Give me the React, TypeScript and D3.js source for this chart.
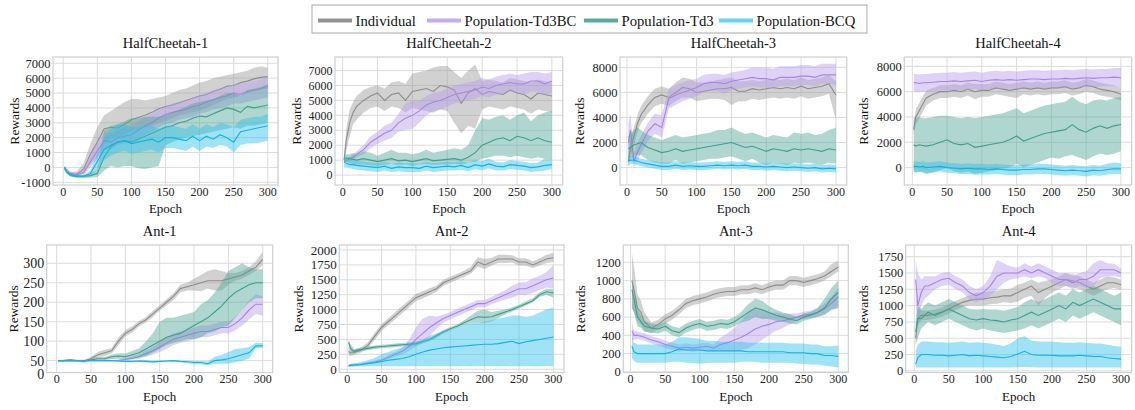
import React from "react";
import * as d3 from "d3";

// ---------- data ----------
const EPOCHS = [2, 5, 10, 15, 20, 30, 40, 50, 60, 70, 80, 90, 100, 110, 120, 130, 140, 150, 160, 170, 180, 190, 200, 210, 220, 230, 240, 250, 260, 270, 280, 290, 300];
const X_TICKS = [0, 50, 100, 150, 200, 250, 300];

const SERIES = ["Individual", "Population-Td3BC", "Population-Td3", "Population-BCQ"];
const LINE_COLORS = ["#8c8c8c", "#a684e6", "#3f9e8d", "#0fb3e6"];
const BAND_COLORS = ["#9a9a9a", "#b59ced", "#4fa596", "#2ec0ec"];
const LEGEND_COLORS = ["#939393", "#c4adef", "#5aab9f", "#6ad2f1"];

// HalfCheetah-1
const HC1_IND_M = [0, -200, -450, -500, -450, -100, 900, 1700, 2600, 2700, 2650, 2900, 3200, 3350, 3500, 3700, 3950, 4100, 4200, 4350, 4500, 4650, 4800, 4900, 5100, 5250, 5450, 5500, 5700, 5800, 5950, 6050, 6100];
const HC1_IND_LO = [-100, -350, -600, -650, -600, -400, 200, 700, 1600, 2000, 2000, 2200, 2400, 2600, 2700, 2800, 3000, 3100, 3300, 3500, 3600, 3700, 3800, 4000, 4200, 4400, 4600, 4700, 4800, 5000, 5100, 5200, 5300];
const HC1_IND_HI = [100, -50, -300, -300, -250, 300, 1600, 2700, 3500, 3800, 4100, 4400, 4600, 4600, 4500, 4600, 4700, 4800, 5000, 5200, 5300, 5500, 5700, 5800, 6000, 6100, 6200, 6300, 6400, 6500, 6700, 6800, 6700];
const HC1_TBC_M = [0, -250, -400, -450, -500, -350, 400, 1100, 1800, 1700, 2000, 2100, 2200, 2500, 2800, 3000, 3300, 3550, 3700, 3800, 3900, 4100, 4200, 4400, 4550, 4700, 4800, 5000, 4900, 5100, 5200, 5300, 5450];
const HC1_TBC_LO = [-100, -400, -550, -600, -650, -550, 0, 600, 1200, 1200, 1500, 1600, 1700, 1900, 2200, 2400, 2700, 2900, 3000, 3200, 3300, 3400, 3600, 3700, 3900, 4000, 4100, 4300, 4300, 4400, 4500, 4600, 4700];
const HC1_TBC_HI = [100, -100, -250, -300, -350, -150, 900, 1700, 2400, 2300, 2500, 2700, 2800, 3100, 3400, 3600, 3900, 4100, 4300, 4400, 4500, 4700, 4800, 5000, 5200, 5300, 5400, 5600, 5600, 5700, 5800, 5900, 6100];
const HC1_TD3_M = [-100, -300, -450, -550, -600, -600, -550, -400, 700, 1400, 1700, 1800, 1700, 1900, 2100, 2300, 2500, 2700, 2800, 3000, 3100, 3300, 3450, 3400, 3600, 3800, 4000, 3900, 3700, 4100, 4000, 4100, 4200];
const HC1_TD3_LO = [-150, -400, -550, -650, -700, -700, -700, -650, -200, 100, 0, 100, 100, -50, -100, 0, 100, 1500, 1700, 1900, 2000, 2100, 2200, 2300, 2400, 2500, 2600, 2700, 2600, 2800, 2800, 2900, 3000];
const HC1_TD3_HI = [-50, -200, -350, -450, -500, -500, -400, -100, 2500, 2800, 2900, 3100, 3300, 3300, 3400, 3400, 3400, 3500, 3700, 3900, 4100, 4300, 4400, 4500, 4600, 4800, 5000, 5000, 4800, 5200, 5300, 5400, 5600];
const HC1_BCQ_M = [0, -300, -500, -550, -600, -600, -400, 400, 1200, 1500, 1700, 1800, 1600, 1700, 1800, 1900, 1700, 2000, 2000, 1900, 1800, 2100, 1800, 2100, 1900, 2200, 2000, 1700, 2400, 2500, 2600, 2700, 2800];
const HC1_BCQ_LO = [-100, -400, -600, -650, -700, -700, -600, -100, 500, 800, 1000, 1100, 900, 1000, 1100, 1200, 1000, 1300, 1300, 1200, 1100, 1400, 1100, 1400, 1300, 1500, 1400, 1000, 1500, 1600, 1600, 1700, 1800];
const HC1_BCQ_HI = [100, -200, -400, -450, -500, -500, -200, 900, 2000, 2600, 2900, 2900, 2700, 2700, 2800, 2800, 2600, 2800, 2800, 2700, 2600, 2900, 2600, 2900, 2700, 3000, 2900, 2700, 3200, 3300, 3400, 3400, 3600];

// HalfCheetah-2
const HC2_IND_M = [1000, 2300, 3500, 4200, 4600, 5000, 5300, 5500, 5000, 5400, 5500, 5000, 5600, 5700, 5800, 5600, 6000, 5900, 5700, 4800, 5500, 5800, 5400, 5600, 5500, 5400, 5700, 5500, 5400, 5100, 5500, 5400, 5300];
const HC2_IND_LO = [800, 1600, 2600, 3400, 3700, 4200, 4500, 4600, 4300, 4600, 4500, 4200, 4500, 4400, 4300, 4200, 4400, 4300, 3500, 2800, 3300, 3100, 4400, 4600, 4500, 4400, 4600, 4500, 4400, 4100, 4400, 4300, 4200];
const HC2_IND_HI = [1200, 3000, 4400, 4900, 5300, 5700, 5900, 6000, 5800, 6200, 6300, 6100, 6800, 6900, 7000, 7200, 7300, 7300, 6900, 6500, 7000, 7400, 6300, 6400, 6300, 6200, 6500, 6400, 6300, 6200, 6400, 6300, 6200];
const HC2_TBC_M = [900, 1000, 1100, 1200, 1400, 1700, 2200, 2500, 2800, 3000, 3500, 3800, 4000, 4300, 4700, 4900, 5000, 5200, 5400, 5500, 5600, 5700, 5900, 5800, 6000, 6100, 6200, 6100, 6100, 6300, 6300, 6100, 6300];
const HC2_TBC_LO = [800, 900, 950, 1050, 1200, 1400, 1800, 2100, 2300, 2500, 2900, 3000, 3100, 3500, 4000, 4300, 4400, 4600, 4800, 4900, 5000, 5100, 5300, 5200, 5400, 5500, 5600, 5500, 5400, 5600, 5600, 5400, 5500];
const HC2_TBC_HI = [1000, 1100, 1250, 1400, 1600, 2000, 2600, 2900, 3300, 3500, 4100, 4800, 5000, 5000, 5300, 5500, 5600, 5800, 6000, 6100, 6200, 6300, 6500, 6400, 6600, 6700, 6800, 6700, 6800, 6900, 6900, 6800, 6900];
const HC2_TD3_M = [1100, 1150, 1100, 1050, 1000, 1100, 1000, 900, 1000, 1100, 950, 1000, 900, 1000, 1100, 950, 1000, 1050, 1100, 1000, 1200, 1500, 2000, 2200, 2400, 2500, 2300, 2600, 2500, 2300, 2500, 2300, 2200];
const HC2_TD3_LO = [900, 900, 800, 750, 700, 700, 650, 600, 700, 750, 650, 700, 600, 700, 750, 650, 700, 700, 750, 700, 800, 900, 1100, 1200, 1300, 1300, 1200, 1300, 1200, 1100, 1200, 1100, 1000];
const HC2_TD3_HI = [1300, 1400, 1400, 1500, 1400, 1600, 1500, 1300, 1500, 1700, 1500, 1500, 1400, 1500, 1700, 1500, 1600, 1700, 1800, 1700, 2000, 3000, 3800, 3700, 3900, 4000, 3700, 4000, 4200, 3600, 4000, 4200, 4300];
const HC2_BCQ_M = [900, 800, 700, 700, 650, 600, 550, 500, 600, 450, 550, 500, 500, 450, 600, 500, 550, 600, 550, 650, 500, 700, 600, 750, 600, 550, 700, 650, 600, 500, 550, 650, 700];
const HC2_BCQ_LO = [500, 500, 450, 400, 350, 300, 250, 200, 300, 200, 250, 200, 200, 200, 300, 200, 250, 300, 300, 350, 250, 400, 300, 450, 300, 300, 400, 350, 300, 200, 250, 300, 400];
const HC2_BCQ_HI = [1300, 1100, 1000, 1000, 950, 900, 850, 800, 900, 750, 850, 800, 800, 750, 900, 800, 850, 900, 850, 950, 800, 1000, 950, 1100, 900, 850, 1000, 950, 900, 800, 850, 1100, 1000];

// HalfCheetah-3
const HC3_IND_M = [500, 1500, 2500, 3500, 4200, 5000, 5600, 5800, 5600, 6000, 6400, 6300, 6000, 6100, 6200, 6300, 6300, 6400, 6100, 6100, 6300, 6200, 6300, 6400, 6300, 6400, 6300, 6500, 6300, 6400, 6500, 6700, 5800];
const HC3_IND_LO = [0, 800, 1800, 2800, 3500, 4300, 4900, 5100, 4900, 5300, 5600, 5600, 5300, 5400, 5500, 5500, 5400, 5000, 5300, 5300, 5500, 5400, 5500, 5600, 5500, 5600, 5500, 5700, 5500, 5600, 5700, 5900, 3800];
const HC3_IND_HI = [1000, 2200, 3200, 4200, 4900, 5700, 6300, 6500, 6300, 6800, 7200, 7100, 6800, 6800, 6900, 7000, 7100, 7200, 6900, 6900, 7000, 6900, 7000, 7100, 7000, 7100, 7000, 7200, 7000, 7100, 7200, 7400, 6900];
const HC3_TBC_M = [2000, 3000, 500, 1200, 1800, 2900, 3500, 3200, 5500, 5800, 6000, 6200, 6400, 6700, 6800, 6800, 6700, 6900, 7000, 7100, 7200, 7100, 7100, 7000, 7200, 7200, 7200, 7300, 7300, 7200, 7400, 7400, 7400];
const HC3_TBC_LO = [800, 1500, 0, 500, 1100, 2100, 2700, 2400, 4700, 5000, 5300, 5500, 5700, 6000, 6100, 6100, 5900, 6200, 6300, 6400, 6500, 6400, 6400, 6300, 6500, 6500, 6500, 6600, 6600, 6500, 6700, 6700, 6600];
const HC3_TBC_HI = [3500, 4300, 1200, 2000, 2500, 3600, 4300, 4200, 6300, 6600, 6800, 7000, 7100, 7400, 7500, 7500, 7400, 7600, 7700, 7800, 8000, 8000, 8000, 7900, 8100, 8100, 8100, 8200, 8200, 8100, 8300, 8300, 8300];
const HC3_TD3_M = [1500, 1600, 1800, 1900, 2000, 1600, 1400, 1200, 1300, 1500, 1300, 1400, 1500, 1600, 1700, 1800, 1900, 2000, 1800, 1600, 1700, 1500, 1300, 1500, 1400, 1300, 1500, 1400, 1500, 1400, 1300, 1500, 1400];
const HC3_TD3_LO = [500, 700, 900, 1000, 1000, 600, 400, 300, 300, 600, 300, 400, 500, 600, 700, 700, 800, 900, 700, 500, 700, 400, 200, 400, 300, 200, 400, 300, 400, 300, 200, 400, 300];
const HC3_TD3_HI = [2500, 2700, 3000, 3200, 3000, 2600, 2400, 2200, 2400, 2600, 2400, 2500, 2600, 2700, 2800, 3000, 3000, 3200, 2900, 2700, 2800, 2600, 2400, 2600, 2500, 2400, 2800, 2700, 2800, 2600, 2700, 3000, 3200];
const HC3_BCQ_M = [500, 600, 600, 500, 400, 300, 200, 100, 100, 200, 100, 150, 100, 100, 150, 200, 150, 200, 150, 200, 100, 100, 50, 100, 50, 0, 50, 0, -50, 0, -100, -50, -100];
const HC3_BCQ_LO = [100, 300, 300, 200, 100, 0, -100, -200, -200, -100, -200, -150, -200, -200, -150, -100, -150, -100, -150, -100, -200, -200, -250, -200, -250, -300, -250, -300, -350, -300, -400, -350, -400];
const HC3_BCQ_HI = [900, 900, 900, 800, 700, 600, 500, 400, 400, 500, 400, 450, 400, 400, 450, 500, 450, 500, 450, 500, 400, 400, 350, 400, 350, 300, 350, 300, 250, 300, 200, 250, 200];

// HalfCheetah-4
const HC4_IND_M = [3000, 4000, 4500, 5000, 5500, 5800, 6000, 6000, 6100, 6000, 6200, 6000, 6100, 6100, 6300, 6200, 6100, 6200, 6300, 6200, 6300, 6200, 6300, 6300, 6400, 6200, 6300, 6500, 6400, 6200, 6100, 6000, 5800];
const HC4_IND_LO = [2600, 3400, 3900, 4400, 4900, 5300, 5500, 5500, 5600, 5500, 5700, 5400, 5600, 5600, 5800, 5700, 5600, 5500, 5800, 5700, 5800, 5700, 5800, 5800, 5900, 5700, 5800, 6000, 5900, 5700, 5600, 5500, 5300];
const HC4_IND_HI = [3400, 4600, 5100, 5600, 6100, 6300, 6500, 6500, 6600, 6500, 6700, 6600, 6600, 6600, 6800, 6700, 6600, 6700, 6800, 6700, 6800, 6700, 6800, 6800, 6900, 6700, 6800, 7000, 6900, 6700, 6600, 6500, 6300];
const HC4_TBC_M = [6700, 6700, 6650, 6700, 6700, 6750, 6800, 6800, 6850, 6800, 6850, 6900, 6800, 6900, 6950, 6900, 6950, 6900, 6950, 7000, 7000, 6950, 7000, 7000, 7050, 7000, 7050, 7100, 7050, 7100, 7100, 7150, 7100];
const HC4_TBC_LO = [6000, 6000, 5950, 6000, 6000, 6050, 6100, 6100, 6150, 6100, 6150, 6200, 6100, 6200, 6250, 6200, 6250, 6200, 6250, 6300, 6300, 6250, 6300, 6300, 6350, 6300, 6350, 6400, 6350, 6400, 6400, 6450, 6300];
const HC4_TBC_HI = [7400, 7400, 7350, 7400, 7400, 7450, 7500, 7500, 7550, 7500, 7550, 7600, 7500, 7600, 7650, 7600, 7650, 7600, 7650, 7700, 7700, 7650, 7700, 7700, 7750, 7700, 7750, 7800, 7750, 7800, 7800, 7850, 7900];
const HC4_TD3_M = [1800, 1700, 1800, 1750, 1700, 1800, 2000, 2200, 1900, 1800, 1900, 1600, 1700, 1800, 1900, 2000, 2200, 2500, 2100, 2300, 2500, 2700, 2800, 2900, 3000, 3400, 3000, 2800, 3100, 3300, 3100, 3300, 3400];
const HC4_TD3_LO = [-300, -400, -300, -400, -500, -400, -200, 0, -300, -400, -300, -500, -400, -300, -200, -100, 0, 300, 0, 200, 400, 600, 800, 700, 900, 1000, 800, 600, 900, 1100, 1000, 1100, 1300];
const HC4_TD3_HI = [4000, 3900, 4000, 3900, 3900, 4000, 4100, 4100, 4000, 3900, 4000, 3900, 4000, 4100, 4200, 4300, 4500, 4700, 4300, 4500, 4700, 4900, 5000, 5100, 5200, 5600, 5200, 5000, 5300, 5400, 5300, 5500, 5600];
const HC4_BCQ_M = [100, 100, 50, 100, 0, 50, 100, 0, -50, -100, -50, -100, -100, -150, -100, -150, -200, -200, -150, -150, -100, -100, -150, -200, -250, -200, -250, -300, -200, -250, -150, -100, -100];
const HC4_BCQ_LO = [-300, -300, -350, -300, -400, -350, -300, -400, -450, -500, -500, -550, -550, -550, -500, -550, -600, -600, -550, -550, -500, -500, -550, -600, -650, -600, -650, -700, -600, -650, -550, -500, -500];
const HC4_BCQ_HI = [500, 500, 450, 500, 400, 450, 500, 400, 350, 300, 350, 300, 300, 250, 300, 250, 200, 200, 250, 250, 300, 300, 250, 200, 150, 200, 150, 100, 200, 150, 300, 400, 350];

// Ant-1
const A1_IND_M = [50, 50, 50, 50, 50, 50, 48, 55, 65, 70, 75, 100, 120, 130, 145, 155, 170, 185, 200, 215, 235, 240, 245, 250, 255, 255, 255, 260, 265, 270, 280, 290, 310];
const A1_IND_LO = [48, 48, 48, 48, 48, 48, 44, 50, 58, 62, 68, 90, 112, 122, 138, 148, 162, 178, 192, 206, 225, 230, 230, 228, 235, 230, 230, 245, 255, 260, 270, 280, 295];
const A1_IND_HI = [52, 52, 52, 52, 52, 52, 52, 60, 72, 78, 82, 110, 128, 138, 152, 162, 178, 192, 208, 224, 245, 250, 260, 270, 280, 285, 280, 275, 275, 280, 290, 305, 330];
const A1_TBC_M = [50, 50, 50, 50, 50, 50, 50, 50, 50, 50, 50, 51, 53, 56, 60, 68, 75, 85, 95, 105, 110, 115, 120, 125, 125, 130, 135, 135, 145, 160, 180, 195, 195];
const A1_TBC_LO = [49, 49, 49, 49, 49, 49, 49, 49, 49, 49, 49, 49, 50, 52, 55, 60, 65, 72, 80, 90, 95, 100, 105, 110, 110, 115, 120, 120, 128, 140, 155, 170, 165];
const A1_TBC_HI = [51, 51, 51, 51, 51, 51, 51, 51, 51, 51, 51, 53, 56, 60, 66, 76, 85, 98, 110, 120, 125, 130, 135, 140, 140, 145, 150, 150, 162, 180, 205, 220, 215];
const A1_TD3_M = [50, 50, 50, 51, 52, 50, 50, 52, 55, 55, 60, 62, 60, 65, 70, 80, 90, 100, 110, 115, 120, 130, 140, 150, 160, 175, 190, 210, 225, 235, 245, 250, 250];
const A1_TD3_LO = [49, 49, 49, 49, 50, 49, 49, 50, 51, 51, 54, 55, 53, 55, 58, 62, 70, 80, 90, 95, 100, 105, 105, 110, 120, 125, 135, 140, 160, 180, 200, 210, 210];
const A1_TD3_HI = [51, 51, 52, 54, 54, 51, 51, 54, 59, 59, 66, 69, 68, 75, 82, 100, 120, 150, 160, 160, 165, 170, 175, 195, 205, 225, 250, 280, 290, 300, 290, 285, 285];
const A1_BCQ_M = [50, 50, 50, 50, 50, 50, 50, 50, 50, 50, 50, 49, 48, 48, 49, 48, 47, 48, 49, 50, 48, 47, 45, 45, 42, 50, 52, 55, 60, 65, 70, 88, 88];
const A1_BCQ_LO = [49, 49, 49, 49, 49, 49, 49, 49, 49, 49, 49, 47, 46, 46, 47, 45, 44, 46, 47, 48, 46, 44, 41, 41, 38, 42, 42, 42, 46, 50, 55, 82, 84];
const A1_BCQ_HI = [51, 51, 51, 51, 51, 51, 51, 51, 51, 51, 51, 51, 50, 50, 51, 51, 50, 50, 51, 52, 50, 50, 49, 49, 48, 60, 65, 72, 80, 82, 85, 96, 95];

// Ant-2
const A2_IND_M = [300, 270, 280, 300, 320, 400, 550, 700, 800, 900, 1000, 1100, 1200, 1250, 1300, 1350, 1450, 1500, 1550, 1600, 1650, 1800, 1750, 1800, 1850, 1850, 1850, 1800, 1800, 1750, 1800, 1850, 1870];
const A2_IND_LO = [230, 220, 240, 260, 280, 350, 490, 640, 740, 840, 940, 1040, 1140, 1190, 1240, 1300, 1400, 1450, 1500, 1550, 1600, 1720, 1680, 1740, 1780, 1780, 1790, 1740, 1740, 1700, 1740, 1780, 1800];
const A2_IND_HI = [380, 330, 320, 340, 370, 450, 610, 760, 860, 960, 1060, 1160, 1260, 1310, 1360, 1400, 1500, 1550, 1600, 1650, 1720, 1880, 1850, 1870, 1920, 1920, 1910, 1860, 1860, 1810, 1860, 1920, 1950];
const A2_TBC_M = [60, 65, 70, 75, 80, 100, 120, 150, 200, 250, 300, 380, 500, 600, 700, 780, 850, 900, 950, 1000, 1050, 1100, 1100, 1150, 1200, 1250, 1300, 1350, 1350, 1400, 1450, 1500, 1530];
const A2_TBC_LO = [40, 45, 50, 55, 60, 75, 95, 120, 165, 210, 250, 300, 380, 450, 550, 680, 780, 840, 890, 940, 990, 1040, 1040, 1090, 1130, 1170, 1200, 1250, 1240, 1280, 1330, 1370, 1350];
const A2_TBC_HI = [80, 85, 90, 95, 100, 125, 145, 180, 235, 290, 350, 500, 700, 850, 900, 880, 920, 960, 1010, 1060, 1110, 1160, 1160, 1210, 1270, 1330, 1400, 1450, 1460, 1520, 1570, 1630, 1750];
const A2_TD3_M = [450, 350, 300, 320, 330, 350, 370, 380, 390, 400, 410, 420, 430, 460, 500, 560, 630, 680, 720, 780, 830, 880, 870, 880, 920, 960, 1000, 1050, 1100, 1150, 1250, 1300, 1280];
const A2_TD3_LO = [400, 300, 270, 290, 300, 320, 340, 350, 360, 370, 380, 390, 400, 430, 470, 530, 600, 650, 690, 740, 780, 780, 780, 800, 860, 920, 970, 1020, 1070, 1120, 1210, 1250, 1200];
const A2_TD3_HI = [500, 420, 340, 350, 360, 380, 400, 410, 420, 430, 440, 450, 460, 490, 530, 590, 660, 710, 750, 820, 900, 980, 1000, 960, 980, 1000, 1040, 1080, 1140, 1190, 1290, 1350, 1340];
const A2_BCQ_M = [60, 65, 70, 75, 80, 95, 110, 130, 150, 165, 180, 210, 250, 290, 320, 340, 360, 370, 380, 390, 400, 410, 420, 420, 430, 450, 470, 430, 460, 480, 500, 520, 540];
const A2_BCQ_LO = [40, 42, 45, 45, 45, 48, 48, 50, 50, 48, 50, 50, 50, 52, 50, 50, 52, 50, 50, 52, 50, 50, 52, 50, 50, 52, 50, 50, 52, 50, 50, 52, 50];
const A2_BCQ_HI = [80, 90, 100, 110, 120, 150, 190, 250, 290, 330, 370, 420, 460, 500, 560, 600, 640, 660, 700, 740, 780, 780, 800, 820, 850, 870, 900, 900, 880, 900, 950, 1000, 1030];

// Ant-3
const A3_IND_M = [1000, 900, 700, 650, 550, 480, 520, 580, 620, 680, 750, 780, 800, 820, 850, 870, 880, 880, 900, 900, 920, 900, 930, 950, 950, 1000, 1000, 980, 1000, 1020, 1050, 1100, 1150];
const A3_IND_LO = [700, 650, 550, 520, 450, 420, 470, 530, 570, 630, 700, 730, 750, 770, 800, 820, 830, 830, 850, 850, 870, 850, 880, 900, 900, 950, 950, 930, 950, 970, 1000, 1050, 1100];
const A3_IND_HI = [1300, 1150, 850, 780, 650, 540, 570, 630, 670, 730, 800, 830, 850, 870, 900, 920, 930, 930, 950, 950, 970, 950, 980, 1000, 1000, 1050, 1050, 1030, 1050, 1070, 1100, 1180, 1220];
const A3_TBC_M = [450, 400, 400, 390, 380, 350, 330, 300, 280, 260, 270, 260, 270, 280, 260, 300, 320, 350, 380, 420, 470, 500, 520, 550, 560, 580, 600, 620, 630, 650, 690, 750, 820];
const A3_TBC_LO = [350, 350, 360, 350, 340, 310, 290, 260, 240, 220, 230, 220, 230, 240, 220, 240, 230, 230, 240, 260, 300, 350, 400, 450, 480, 520, 560, 580, 590, 600, 630, 680, 700];
const A3_TBC_HI = [550, 450, 440, 430, 420, 390, 370, 340, 320, 300, 310, 300, 310, 320, 300, 380, 420, 480, 560, 640, 690, 680, 650, 650, 640, 640, 640, 660, 670, 700, 750, 820, 920];
const A3_TD3_M = [900, 800, 600, 550, 500, 480, 470, 500, 450, 430, 480, 510, 530, 500, 510, 530, 520, 550, 600, 650, 700, 680, 650, 620, 600, 580, 560, 600, 620, 650, 700, 800, 870];
const A3_TD3_LO = [700, 650, 500, 480, 440, 430, 420, 450, 400, 380, 430, 460, 480, 450, 460, 480, 470, 500, 540, 560, 600, 580, 580, 560, 550, 530, 520, 560, 580, 600, 620, 680, 700];
const A3_TD3_HI = [1000, 900, 700, 620, 560, 530, 520, 550, 500, 480, 530, 560, 580, 550, 560, 580, 570, 600, 660, 740, 800, 780, 720, 680, 650, 630, 600, 640, 660, 700, 800, 920, 1000];
const A3_BCQ_M = [280, 220, 200, 200, 200, 200, 200, 200, 220, 250, 240, 240, 240, 230, 230, 230, 230, 230, 230, 220, 220, 220, 220, 220, 220, 210, 210, 210, 200, 200, 180, 180, 170];
const A3_BCQ_LO = [150, 120, 100, 100, 100, 100, 100, 100, 110, 110, 100, 100, 90, 100, 100, 100, 100, 100, 110, 110, 110, 100, 100, 100, 100, 100, 90, 90, 80, 80, 70, 60, 50];
const A3_BCQ_HI = [400, 320, 300, 300, 300, 300, 300, 300, 330, 380, 380, 370, 360, 340, 340, 330, 330, 330, 330, 320, 320, 320, 320, 320, 320, 310, 310, 310, 300, 300, 280, 280, 290];

// Ant-4
const A4_IND_M = [500, 800, 850, 850, 850, 870, 900, 950, 1000, 1050, 1080, 1100, 1100, 1120, 1130, 1150, 1150, 1200, 1250, 1300, 1200, 1250, 1300, 1350, 1400, 1380, 1350, 1300, 1250, 1300, 1350, 1350, 1320];
const A4_IND_LO = [400, 700, 770, 780, 780, 800, 830, 880, 930, 980, 1000, 1000, 1000, 1020, 1030, 1050, 1040, 1060, 1120, 1150, 1000, 1120, 1200, 1250, 1300, 1280, 1250, 1200, 1150, 1200, 1250, 1270, 1240];
const A4_IND_HI = [600, 950, 930, 920, 920, 940, 970, 1020, 1070, 1120, 1160, 1200, 1200, 1220, 1230, 1250, 1260, 1320, 1350, 1400, 1350, 1380, 1400, 1450, 1500, 1480, 1450, 1400, 1350, 1400, 1450, 1430, 1400];
const A4_TBC_M = [1400, 1000, 1200, 1300, 1300, 1350, 1400, 1420, 1350, 1300, 1200, 1150, 1200, 1300, 1450, 1500, 1500, 1500, 1550, 1500, 1550, 1500, 1450, 1400, 1400, 1350, 1400, 1400, 1450, 1550, 1550, 1550, 1500];
const A4_TBC_LO = [1000, 700, 1000, 1100, 1150, 1250, 1300, 1320, 1250, 1200, 1100, 1050, 1100, 1150, 1250, 1350, 1400, 1420, 1450, 1420, 1450, 1420, 1350, 1300, 1300, 1250, 1300, 1270, 1300, 1420, 1450, 1450, 1430];
const A4_TBC_HI = [1700, 1500, 1400, 1450, 1450, 1450, 1500, 1520, 1450, 1400, 1300, 1250, 1300, 1450, 1700, 1650, 1600, 1580, 1650, 1600, 1650, 1600, 1550, 1500, 1500, 1450, 1500, 1530, 1650, 1700, 1650, 1640, 1570];
const A4_TD3_M = [600, 800, 800, 850, 900, 850, 900, 950, 900, 850, 800, 780, 800, 780, 770, 750, 780, 800, 850, 900, 850, 900, 950, 1000, 950, 1050, 1000, 1050, 1100, 1050, 1000, 950, 950];
const A4_TD3_LO = [400, 500, 650, 700, 750, 700, 750, 800, 750, 700, 650, 620, 650, 620, 600, 580, 600, 620, 650, 700, 650, 700, 750, 800, 750, 850, 800, 850, 900, 850, 800, 750, 700];
const A4_TD3_HI = [800, 1000, 950, 1000, 1050, 1000, 1050, 1100, 1050, 1000, 950, 940, 950, 940, 940, 920, 950, 980, 1050, 1100, 1050, 1100, 1150, 1200, 1150, 1250, 1200, 1250, 1300, 1250, 1200, 1150, 1200];
const A4_BCQ_M = [100, 200, 250, 250, 250, 240, 240, 230, 240, 250, 230, 240, 230, 220, 210, 200, 220, 260, 300, 250, 240, 240, 240, 230, 230, 230, 240, 230, 220, 220, 200, 190, 180];
const A4_BCQ_LO = [50, 50, 52, 50, 50, 52, 50, 50, 52, 50, 50, 52, 50, 50, 52, 50, 50, 55, 60, 55, 50, 50, 52, 50, 50, 52, 50, 50, 52, 50, 50, 52, 50];
const A4_BCQ_HI = [300, 400, 450, 450, 450, 440, 440, 430, 440, 450, 430, 440, 430, 420, 400, 380, 420, 500, 530, 460, 450, 450, 450, 440, 430, 430, 440, 430, 420, 420, 400, 380, 370];

// y tick values
const HC1_Y_TICKS = [-1000, 0, 1000, 2000, 3000, 4000, 5000, 6000, 7000];
const HC2_Y_TICKS = [0, 1000, 2000, 3000, 4000, 5000, 6000, 7000];
const HC3_Y_TICKS = [0, 2000, 4000, 6000, 8000];
const HC4_Y_TICKS = [0, 2000, 4000, 6000, 8000];
const A1_Y_TICKS = [50, 100, 150, 200, 250, 300];
const A2_Y_TICKS = [0, 250, 500, 750, 1000, 1250, 1500, 1750, 2000];
const A3_Y_TICKS = [0, 200, 400, 600, 800, 1000, 1200];
const A4_Y_TICKS = [0, 250, 500, 750, 1000, 1250, 1500, 1750];

// ---------- layout ----------
const W = 1135;
const H = 410;
const FONT = "Liberation Serif, Times New Roman, Times, serif";
const ROW1 = [57, 185];
const ROW2 = [245, 372.5];

type Panel = {
  title: string;
  x0: number; x1: number; top: number; bottom: number;
  xDomain: [number, number];
  yDomain: [number, number];
  yTicks: number[];
  zeroAtBottom?: boolean;
  tickSize: number;
  labelOffset: number;
  series: number[][][];
};

const PANELS: Panel[] = [
  { title: "HalfCheetah-1", x0: 53, x1: 278, top: ROW1[0], bottom: ROW1[1], xDomain: [-15, 315], yDomain: [-1180, 7420], yTicks: HC1_Y_TICKS, tickSize: 12.5, labelOffset: 39,
    series: [[HC1_IND_M, HC1_IND_LO, HC1_IND_HI], [HC1_TBC_M, HC1_TBC_LO, HC1_TBC_HI], [HC1_TD3_M, HC1_TD3_LO, HC1_TD3_HI], [HC1_BCQ_M, HC1_BCQ_LO, HC1_BCQ_HI]] },
  { title: "HalfCheetah-2", x0: 335, x1: 562.7, top: ROW1[0], bottom: ROW1[1], xDomain: [-11, 315.5], yDomain: [-665, 7910], yTicks: HC2_Y_TICKS, tickSize: 12, labelOffset: 38.5,
    series: [[HC2_IND_M, HC2_IND_LO, HC2_IND_HI], [HC2_TBC_M, HC2_TBC_LO, HC2_TBC_HI], [HC2_TD3_M, HC2_TD3_LO, HC2_TD3_HI], [HC2_BCQ_M, HC2_BCQ_LO, HC2_BCQ_HI]] },
  { title: "HalfCheetah-3", x0: 620, x1: 846.7, top: ROW1[0], bottom: ROW1[1], xDomain: [-10, 315.5], yDomain: [-1390, 8830], yTicks: HC3_Y_TICKS, tickSize: 12.5, labelOffset: 40.5,
    series: [[HC3_IND_M, HC3_IND_LO, HC3_IND_HI], [HC3_TBC_M, HC3_TBC_LO, HC3_TBC_HI], [HC3_TD3_M, HC3_TD3_LO, HC3_TD3_HI], [HC3_BCQ_M, HC3_BCQ_LO, HC3_BCQ_HI]] },
  { title: "HalfCheetah-4", x0: 904.3, x1: 1131.7, top: ROW1[0], bottom: ROW1[1], xDomain: [-11.5, 315.5], yDomain: [-1375, 8740], yTicks: HC4_Y_TICKS, tickSize: 12.5, labelOffset: 41,
    series: [[HC4_IND_M, HC4_IND_LO, HC4_IND_HI], [HC4_TBC_M, HC4_TBC_LO, HC4_TBC_HI], [HC4_TD3_M, HC4_TD3_LO, HC4_TD3_HI], [HC4_BCQ_M, HC4_BCQ_LO, HC4_BCQ_HI]] },
  { title: "Ant-1", x0: 46.7, x1: 272.7, top: ROW2[0], bottom: ROW2[1], xDomain: [-14.5, 314.5], yDomain: [19.5, 347], yTicks: A1_Y_TICKS, zeroAtBottom: true, tickSize: 14, labelOffset: 33,
    series: [[A1_IND_M, A1_IND_LO, A1_IND_HI], [A1_TBC_M, A1_TBC_LO, A1_TBC_HI], [A1_TD3_M, A1_TD3_LO, A1_TD3_HI], [A1_BCQ_M, A1_BCQ_LO, A1_BCQ_HI]] },
  { title: "Ant-2", x0: 339.3, x1: 564, top: ROW2[0], bottom: ROW2[1], xDomain: [-11.5, 315.5], yDomain: [-55, 2084], yTicks: A2_Y_TICKS, tickSize: 13, labelOffset: 41,
    series: [[A2_IND_M, A2_IND_LO, A2_IND_HI], [A2_TBC_M, A2_TBC_LO, A2_TBC_HI], [A2_TD3_M, A2_TD3_LO, A2_TD3_HI], [A2_BCQ_M, A2_BCQ_LO, A2_BCQ_HI]] },
  { title: "Ant-3", x0: 623.3, x1: 848.3, top: ROW2[0], bottom: ROW2[1], xDomain: [-10.5, 314.5], yDomain: [-7, 1390], yTicks: A3_Y_TICKS, tickSize: 12.5, labelOffset: 43,
    series: [[A3_IND_M, A3_IND_LO, A3_IND_HI], [A3_TBC_M, A3_TBC_LO, A3_TBC_HI], [A3_TD3_M, A3_TD3_LO, A3_TD3_HI], [A3_BCQ_M, A3_BCQ_LO, A3_BCQ_HI]] },
  { title: "Ant-4", x0: 905.7, x1: 1131.7, top: ROW2[0], bottom: ROW2[1], xDomain: [-12.5, 315.5], yDomain: [-25, 1929], yTicks: A4_Y_TICKS, tickSize: 12.5, labelOffset: 42.5,
    series: [[A4_IND_M, A4_IND_LO, A4_IND_HI], [A4_TBC_M, A4_TBC_LO, A4_TBC_HI], [A4_TD3_M, A4_TD3_LO, A4_TD3_HI], [A4_BCQ_M, A4_BCQ_LO, A4_BCQ_HI]] },
];

// legend item starts (handle left edge)
const LEGEND_X = [318, 427, 584, 719];

const PanelView = ({ p, idx }: { p: Panel; idx: number }) => {
  const x = d3.scaleLinear().domain(p.xDomain).range([p.x0, p.x1]);
  const y = d3.scaleLinear().domain(p.yDomain).range([p.bottom, p.top]);
  const clipId = `clip-${idx}`;
  const midX = (p.x0 + p.x1) / 2;
  const midY = (p.top + p.bottom) / 2;

  const line = (m: number[]) =>
    d3.line<number>().x((_, i) => x(EPOCHS[i])).y((d) => y(d))(m) || "";
  const area = (lo: number[], hi: number[]) =>
    d3.area<number>().x((_, i) => x(EPOCHS[i])).y0((d) => y(d)).y1((_, i) => y(hi[i]))(lo) || "";

  return (
    <g>
      <defs>
        <clipPath id={clipId}>
          <rect x={p.x0} y={p.top} width={p.x1 - p.x0} height={p.bottom - p.top} />
        </clipPath>
      </defs>
      {/* grid */}
      {X_TICKS.map((t) => (
        <line key={"gx" + t} x1={x(t)} x2={x(t)} y1={p.top} y2={p.bottom} stroke="#dcdcdc" strokeWidth={1} />
      ))}
      {p.yTicks.map((t) => (
        <line key={"gy" + t} x1={p.x0} x2={p.x1} y1={y(t)} y2={y(t)} stroke="#dcdcdc" strokeWidth={1} />
      ))}
      {/* bands and lines */}
      <g clipPath={`url(#${clipId})`}>
        {p.series.map(([m, lo, hi], i) => (
          <g key={SERIES[i]}>
            <path d={area(lo, hi)} fill={BAND_COLORS[i]} fillOpacity={0.45} stroke="none" />
            <path d={line(m)} fill="none" stroke={LINE_COLORS[i]} strokeWidth={1.1} />
          </g>
        ))}
      </g>
      {/* frame */}
      <rect x={p.x0} y={p.top} width={p.x1 - p.x0} height={p.bottom - p.top} fill="none" stroke="#cfcfcf" strokeWidth={1.2} />
      {/* x ticks */}
      {X_TICKS.map((t) => (
        <text key={"tx" + t} x={x(t)} y={p.bottom + 10.5} fontFamily={FONT} fontSize={12} textAnchor="middle" fill="#222">{t}</text>
      ))}
      {/* y ticks */}
      {p.yTicks.map((t) => (
        <text key={"ty" + t} x={p.x0 - 2.5} y={y(t)} dy="0.35em" fontFamily={FONT} fontSize={p.tickSize} textAnchor="end" fill="#222">{t}</text>
      ))}
      {p.zeroAtBottom && (
        <text x={p.x0 - 2.5} y={p.bottom + 2.5} dy="0.32em" fontFamily={FONT} fontSize={p.tickSize} textAnchor="end" fill="#222">0</text>
      )}
      {/* labels */}
      <text x={midX} y={p.top - 9.3} fontFamily={FONT} fontSize={14.5} textAnchor="middle" fill="#111">{p.title}</text>
      <text x={midX} y={p.bottom + 28} fontFamily={FONT} fontSize={13} textAnchor="middle" fill="#111">Epoch</text>
      <text transform={`translate(${p.x0 - p.labelOffset},${midY}) rotate(-90)`} dy="0.35em" fontFamily={FONT} fontSize={13.5} textAnchor="middle" fill="#111">Rewards</text>
    </g>
  );
};

export default function App() {
  return (
    <svg width={W} height={H} style={{ position: "absolute", left: 0, top: 0, background: "#fff" }}>
      <rect x={0} y={0} width={W} height={H} fill="#fff" />
      {PANELS.map((p, i) => (
        <PanelView key={p.title} p={p} idx={i} />
      ))}
      {/* legend */}
      <rect x={312} y={5} width={555} height={28} fill="#fff" stroke="#a8a8a8" strokeWidth={1} />
      {SERIES.map((s, i) => (
        <g key={s}>
          <line x1={LEGEND_X[i]} x2={LEGEND_X[i] + 34} y1={20.5} y2={20.5} stroke={LEGEND_COLORS[i]} strokeWidth={4} />
          <text x={LEGEND_X[i] + 37.5} y={20.5} dy="0.35em" fontFamily={FONT} fontSize={14.7} fill="#111">{s}</text>
        </g>
      ))}
    </svg>
  );
}
